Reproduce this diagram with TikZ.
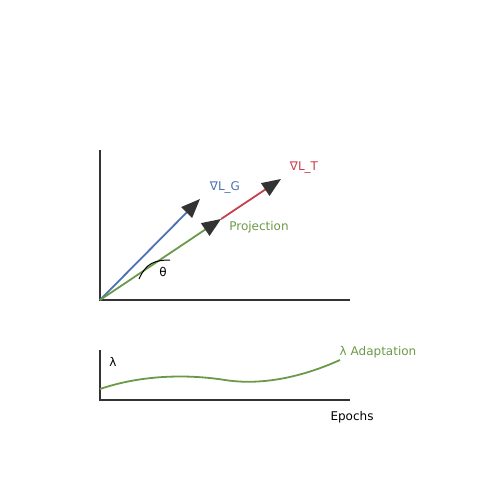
\documentclass[tikz,border=0pt]{standalone}
\usepackage{fontspec}
\setmainfont{DejaVu Sans}
\usetikzlibrary{arrows.meta}
\definecolor{gradblue}{HTML}{4C72B0}
\definecolor{gradred}{HTML}{C8404E}
\definecolor{projgreen}{HTML}{6A9A48}
\definecolor{axisgray}{HTML}{333333}
\tikzset{
	axis/.style={line width=1.5pt, color=axisgray},
	vecarrow/.style={line width=1.8pt, -{Triangle[length=19pt,width=15pt,fill=axisgray,color=axisgray]}},
	lbl/.style={font=\fontsize{12}{14}\selectfont, inner sep=0pt}
}
\begin{document}
\begin{tikzpicture}[x=1pt, y=-1pt]
		%%%%% START %%%%%
		\useasboundingbox (0, 0) rectangle (500, 500);
		
		% gradient panel
		\coordinate (O) at (100, 300);
		\coordinate (ytop) at (100, 150);
		\coordinate (xend) at (350, 300);
		\coordinate (gG) at (200, 199);
		\coordinate (gP) at (221, 219);
		\coordinate (gT) at (281, 179);
		
		\draw[axis] (ytop) -- (O) -- (xend);
		\draw[vecarrow, color=gradblue] (O) -- (gG);
		\draw[vecarrow, color=gradred] (gP) -- (gT);
		\draw[vecarrow, color=projgreen] (O) -- (gP);
		
		\coordinate (arcA) at (139, 279);
		\coordinate (arcB) at (170, 260);
		\draw[line width=1pt] (arcA) .. controls (146, 263) and (155, 260) .. (arcB);
		
		\node[lbl, color=gradblue] (labG) at (225, 187.5) {∇L\_G};
		\node[lbl, color=gradred] (labT) at (304, 167.5) {∇L\_T};
		\node[lbl, color=projgreen] (labP) at (259, 227.5) {Projection};
		\node[lbl] (theta) at (163, 271.5) {θ};
		
		% lambda panel
		\coordinate (O2) at (100, 400);
		\coordinate (ytop2) at (100, 350);
		\coordinate (xend2) at (350, 400);
		\draw[axis] (ytop2) -- (O2) -- (xend2);
		
		\coordinate (lamA) at (100, 389);
		\coordinate (lamM) at (225, 380);
		\coordinate (lamB) at (340, 360);
		\draw[line width=1.8pt, color=projgreen] (lamA) .. controls (150, 372) and (200, 376) .. (lamM) .. controls (260, 385.5) and (300, 378) .. (lamB);
		
		\node[lbl] (lam) at (113, 362) {λ};
		\node[lbl, color=projgreen] (labA) at (378, 352.5) {λ Adaptation};
		\node[lbl] (epochs) at (352, 417.5) {Epochs};
		%%%%% END %%%%%
\end{tikzpicture}
\end{document}
